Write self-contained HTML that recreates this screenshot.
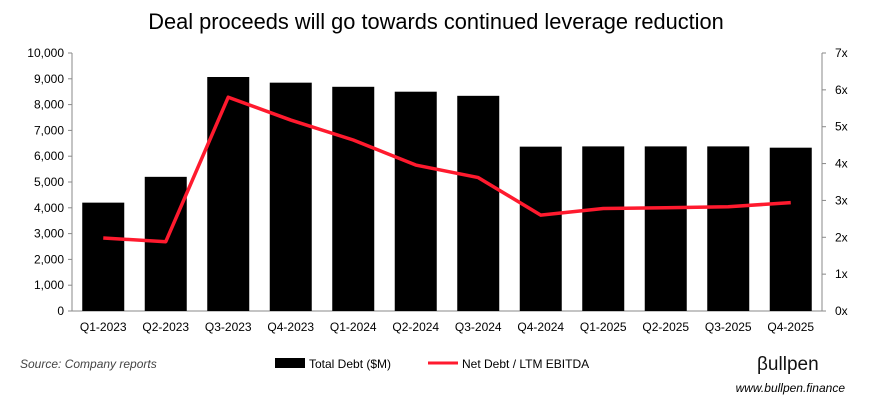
<!DOCTYPE html>
<html><head><meta charset="utf-8"><style>
body{margin:0;background:#fff;font-family:"Liberation Sans",Arial,sans-serif;}
svg text{font-family:"Liberation Sans",Arial,sans-serif;}
</style></head><body>
<svg id="chart" width="873" height="412" xmlns="http://www.w3.org/2000/svg">
<text x="436" y="29" text-anchor="middle" font-size="21.8" fill="#000">Deal proceeds will go towards continued leverage reduction</text>
<g id="axes"></g><g id="bars"></g><g id="line"></g>
<text x="20" y="368" font-size="12" font-style="italic" fill="#444">Source: Company reports</text>
<rect x="275" y="358" width="30" height="10" fill="#000"/>
<text x="309" y="368" font-size="12">Total Debt ($M)</text>
<line x1="428" y1="363" x2="458" y2="363" stroke="#ff1a2e" stroke-width="3"/>
<text x="462" y="368" font-size="12">Net Debt / LTM EBITDA</text>
<text x="757" y="370" font-size="19" fill="#111">βullpen</text>
<text x="845" y="392" text-anchor="end" font-size="12" font-style="italic" fill="#000">www.bullpen.finance</text>
</svg>
<script>
const categories=["Q1-2023","Q2-2023","Q3-2023","Q4-2023","Q1-2024","Q2-2024","Q3-2024","Q4-2024","Q1-2025","Q2-2025","Q3-2025","Q4-2025"];
const totalDebt=[4200,5200,9070,8850,8690,8500,8340,6370,6380,6380,6380,6330];
const leverage=[1.98,1.88,5.8,5.18,4.64,3.96,3.62,2.6,2.78,2.8,2.83,2.94];
const leftTicks=[0,1000,2000,3000,4000,5000,6000,7000,8000,9000,10000];
const rightTicks=[0,1,2,3,4,5,6,7];
const NS="http://www.w3.org/2000/svg";
const L=72,R=822,T=53,B=311;
const step=(R-L)/categories.length;
const xC=i=>L+step*(i+0.5);
const yL=v=>B-(v/10000)*(B-T);
const yR=v=>B-(v/7)*(B-T);
function mk(tag,attrs,parent,text){const e=document.createElementNS(NS,tag);for(const k in attrs)e.setAttribute(k,attrs[k]);if(text!==undefined)e.textContent=text;document.getElementById(parent).appendChild(e);return e;}
let e;
e=mk("line",{x1:L,y1:T,x2:L,y2:B,stroke:"#888"},"axes");


e=mk("line",{x1:R,y1:T,x2:R,y2:B,stroke:"#888"},"axes");


e=mk("line",{x1:L,y1:B,x2:R,y2:B,stroke:"#888"},"axes");


leftTicks.forEach(v=>{
  mk("line",{x1:L-4,y1:yL(v),x2:L,y2:yL(v),stroke:"#888"},"axes");
  e=mk("text",{x:L-8,y:yL(v)+4,"text-anchor":"end","font-size":12},"axes",v.toLocaleString("en-US"));
  
  
});
rightTicks.forEach(v=>{
  mk("line",{x1:R,y1:yR(v),x2:R+4,y2:yR(v),stroke:"#888"},"axes");
  e=mk("text",{x:R+13,y:yR(v)+4,"font-size":12},"axes",v+"x");
  
  
});
categories.forEach((c,i)=>{
  e=mk("text",{x:xC(i),y:B+20,"text-anchor":"middle","font-size":12},"axes",c);
  
  
  e=mk("rect",{x:xC(i)-21,y:yL(totalDebt[i]),width:42,height:B-yL(totalDebt[i]),fill:"#000"},"bars");
  
  
});
e=mk("polyline",{points:leverage.map((v,i)=>xC(i)+","+yR(v)).join(" "),fill:"none",stroke:"#ff1a2e","stroke-width":3.5,"stroke-linejoin":"round"},"line");


</script>
</body></html>
